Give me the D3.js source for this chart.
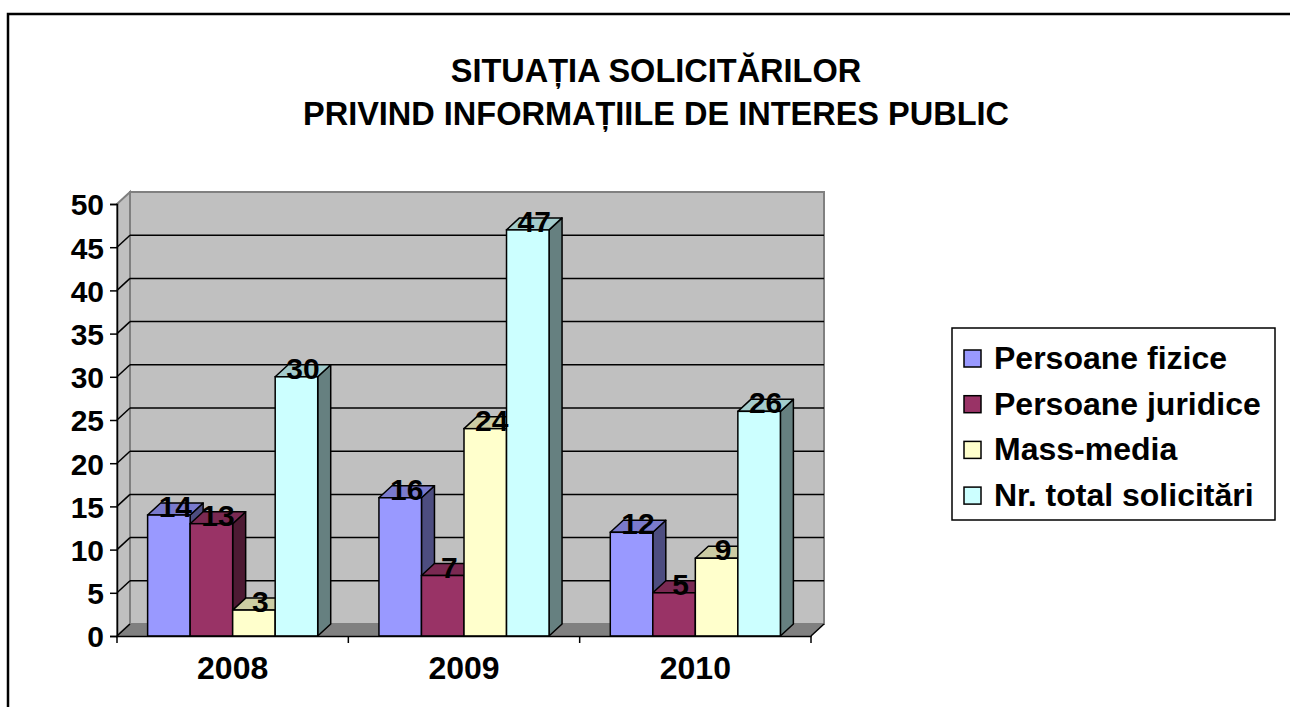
<!DOCTYPE html>
<html>
<head>
<meta charset="utf-8">
<script src="https://cdn.jsdelivr.net/npm/d3@7"></script>
<style>
  body { margin: 0; background: #fff; }
  svg text { font-family: "Liberation Sans", Arial, sans-serif; font-weight: bold; fill: #000; }
</style>
</head>
<body>
<svg id="chart" width="1290" height="707"></svg>
<script>
// data
const years = ['2008', '2009', '2010'];
const seriesNames = ['Persoane fizice', 'Persoane juridice', 'Mass-media', 'Nr. total solicitări'];
const persoaneFizice = [14, 16, 12];
const persoaneJuridice = [13, 7, 5];
const massMedia = [3, 24, 9];
const totalSolicitari = [30, 47, 26];
const seriesColors = ['#9999FF', '#993366', '#FFFFCC', '#CCFFFF'];
const yTicks = [0, 5, 10, 15, 20, 25, 30, 35, 40, 45, 50];
const titleLines = ['SITUAȚIA SOLICITĂRILOR', 'PRIVIND INFORMAȚIILE DE INTERES PUBLIC'];

const seriesValues = [persoaneFizice, persoaneJuridice, massMedia, totalSolicitari];

const svg = d3.select('#chart');

// plot area (front plane) and 3d depth offset
const plotLeft = 117, plotRight = 811, plotBottom = 636, plotTop = 204;
const dx = 13, dy = -12;

const x0 = d3.scaleBand().domain(years).range([plotLeft, plotRight]).paddingInner(0);
const x1 = d3.scaleBand().domain(seriesNames).range([0, x0.bandwidth()]).paddingOuter(0.72);
const y = d3.scaleLinear().domain([0, 50]).range([plotBottom, plotTop]);

const shade = (c, k) => {
    const r = d3.rgb(c);
    return d3.rgb(r.r * k, r.g * k, r.b * k).toString();
};
const poly = (pts) => 'M' + pts.map((p) => p.join(',')).join('L') + 'Z';

// outer frame
svg.append('rect')
    .attr('x', 8).attr('y', 14).attr('width', 1300).attr('height', 720)
    .attr('fill', 'none').attr('stroke', '#000').attr('stroke-width', 2.5);

// title
svg.append('g').selectAll('text')
    .data(titleLines)
    .join('text')
    .attr('x', 656)
    .attr('y', (d, i) => 82 + i * 43)
    .attr('text-anchor', 'middle')
    .style('font-size', '32.5px')
    .text((d) => d);

// side wall (left)
svg.append('path')
    .attr('d', poly([[plotLeft, plotBottom], [plotLeft, plotTop], [plotLeft + dx, plotTop + dy], [plotLeft + dx, plotBottom + dy]]))
    .attr('fill', '#C0C0C0').attr('stroke', '#808080').attr('stroke-width', 2);

// back wall
svg.append('rect')
    .attr('x', plotLeft + dx).attr('y', plotTop + dy)
    .attr('width', plotRight - plotLeft).attr('height', plotBottom - plotTop)
    .attr('fill', '#C0C0C0').attr('stroke', '#808080').attr('stroke-width', 2);

// floor
svg.append('path')
    .attr('d', poly([[plotLeft, plotBottom], [plotRight, plotBottom], [plotRight + dx, plotBottom + dy], [plotLeft + dx, plotBottom + dy]]))
    .attr('fill', '#808080');

// gridlines on back wall and side wall
const grid = yTicks.filter((t) => t > 0 && t < 50);
svg.append('g').selectAll('line')
    .data(grid)
    .join('line')
    .attr('x1', plotLeft + dx).attr('x2', plotRight + dx)
    .attr('y1', (d) => y(d) + dy).attr('y2', (d) => y(d) + dy)
    .attr('stroke', '#000').attr('stroke-width', 1.5);
svg.append('g').selectAll('line')
    .data(grid.concat([0]))
    .join('line')
    .attr('x1', plotLeft).attr('x2', plotLeft + dx)
    .attr('y1', (d) => y(d)).attr('y2', (d) => y(d) + dy)
    .attr('stroke', '#000').attr('stroke-width', 1.5);
svg.append('line')
    .attr('x1', plotRight).attr('x2', plotRight + dx)
    .attr('y1', plotBottom).attr('y2', plotBottom + dy)
    .attr('stroke', '#000').attr('stroke-width', 1.5);

// bars, drawn left to right so later faces cover earlier sides
const bars = [];
years.forEach((yr, i) => {
    seriesNames.forEach((s, j) => {
        bars.push({ year: yr, series: s, value: seriesValues[j][i], color: seriesColors[j] });
    });
});

const barG = svg.append('g').selectAll('g')
    .data(bars)
    .join('g');

barG.each(function (d) {
    const g = d3.select(this);
    const xl = x0(d.year) + x1(d.series);
    const xr = xl + x1.bandwidth();
    const yt = y(d.value);
    // side face
    g.append('path')
        .attr('d', poly([[xr, plotBottom], [xr, yt], [xr + dx, yt + dy], [xr + dx, plotBottom + dy]]))
        .attr('fill', shade(d.color, 0.5)).attr('stroke', '#000').attr('stroke-width', 1.5)
        .attr('stroke-linejoin', 'round');
    // top face
    g.append('path')
        .attr('d', poly([[xl, yt], [xr, yt], [xr + dx, yt + dy], [xl + dx, yt + dy]]))
        .attr('fill', shade(d.color, 0.8)).attr('stroke', '#000').attr('stroke-width', 1.5)
        .attr('stroke-linejoin', 'round');
    // front face
    g.append('rect')
        .attr('x', xl).attr('y', yt)
        .attr('width', xr - xl).attr('height', plotBottom - yt)
        .attr('fill', d.color).attr('stroke', '#000').attr('stroke-width', 1.5);
});

// value labels
svg.append('g').selectAll('text')
    .data(bars)
    .join('text')
    .attr('x', (d) => x0(d.year) + x1(d.series) + x1.bandwidth() / 2 + dx / 2)
    .attr('y', (d) => y(d.value) + 2)
    .attr('text-anchor', 'middle')
    .style('font-size', '30px')
    .text((d) => d.value);

// y axis
const yAxis = svg.append('g')
    .attr('transform', `translate(${plotLeft},0)`)
    .call(d3.axisLeft(y).tickValues(yTicks).tickSize(7).tickPadding(6).tickFormat(d3.format('d')));
yAxis.select('.domain').attr('stroke', '#000').attr('stroke-width', 1.5);
yAxis.selectAll('.tick line').attr('stroke', '#000').attr('stroke-width', 1.5);
yAxis.selectAll('.tick text')
    .attr('dy', '0.36em')
    .style('font-size', '30px')
    .style('font-family', '"Liberation Sans", Arial, sans-serif');

// x axis
const xAxis = svg.append('g')
    .attr('transform', `translate(0,${plotBottom})`)
    .call(d3.axisBottom(x0).tickSize(0).tickPadding(0));
xAxis.select('.domain').attr('stroke', '#000').attr('stroke-width', 1.5);
xAxis.selectAll('.tick text')
    .attr('y', 43).attr('dy', 0)
    .style('font-size', '32px')
    .style('font-family', '"Liberation Sans", Arial, sans-serif');
xAxis.append('g').selectAll('line')
    .data(years.map((d) => x0(d)).concat([plotRight]))
    .join('line')
    .attr('x1', (d) => d).attr('x2', (d) => d)
    .attr('y1', 0).attr('y2', 7)
    .attr('stroke', '#000').attr('stroke-width', 1.5);

// legend
const legend = svg.append('g');
legend.append('rect')
    .attr('x', 952).attr('y', 328).attr('width', 323).attr('height', 192)
    .attr('fill', '#fff').attr('stroke', '#000').attr('stroke-width', 1.5);
const item = legend.selectAll('g.item')
    .data(seriesNames)
    .join('g')
    .attr('class', 'item')
    .attr('transform', (d, i) => `translate(964,${358 + i * 45.7})`);
item.append('rect')
    .attr('x', 0).attr('y', -8).attr('width', 17).attr('height', 17)
    .attr('fill', (d, i) => seriesColors[i]).attr('stroke', '#000').attr('stroke-width', 1.5);
item.append('text')
    .attr('x', 30).attr('y', 11)
    .style('font-size', '32px')
    .text((d) => d);
</script>
</body>
</html>
